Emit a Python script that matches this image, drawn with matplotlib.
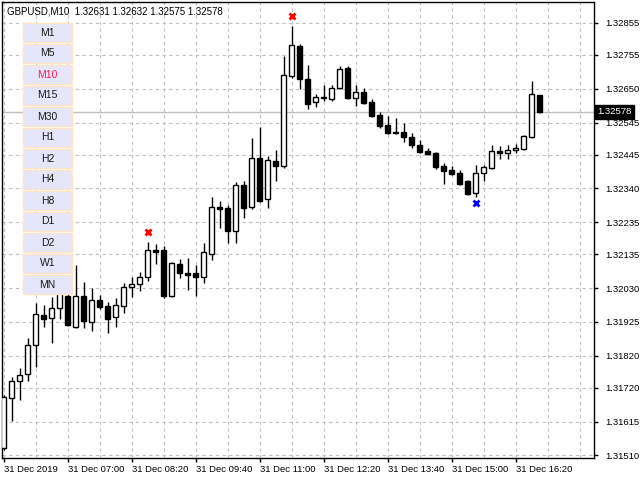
import matplotlib
matplotlib.use("Agg")
import matplotlib.pyplot as plt
from matplotlib.patches import Rectangle

plt.rcParams['font.family'] = ['Liberation Sans', 'DejaVu Sans']

symbol = "GBPUSD,M10"

# OHLC of the 10 minute bars
opens = [1.31533, 1.31688, 1.31741, 1.31763, 1.31853, 1.31946, 1.31937, 1.31968, 1.32005, 1.31909,
         1.32005, 1.31925, 1.31993, 1.31974, 1.31940, 1.31974, 1.32033, 1.32043, 1.32065, 1.32149,
         1.32149, 1.32005, 1.32105, 1.32077, 1.32077, 1.32065, 1.32136, 1.32282, 1.32279, 1.32208,
         1.32351, 1.32282, 1.32435, 1.32307, 1.32425, 1.32410, 1.32690, 1.32783, 1.32680, 1.32609,
         1.32624, 1.32618, 1.32652, 1.32715, 1.32621, 1.32640, 1.32609, 1.32568, 1.32537, 1.32516,
         1.32516, 1.32500, 1.32475, 1.32456, 1.32450, 1.32410, 1.32397, 1.32388, 1.32363, 1.32326,
         1.32388, 1.32404, 1.32456, 1.32450, 1.32460, 1.32463, 1.32500, 1.32631]
highs = [1.31698, 1.31754, 1.31782, 1.31875, 1.31984, 1.31977, 1.32002, 1.32065, 1.32024, 1.32102,
         1.32049, 1.32030, 1.32009, 1.31987, 1.31999, 1.32046, 1.32065, 1.32080, 1.32173, 1.32167,
         1.32161, 1.32111, 1.32121, 1.32124, 1.32102, 1.32170, 1.32313, 1.32301, 1.32288, 1.32360,
         1.32363, 1.32497, 1.32531, 1.32441, 1.32460, 1.32752, 1.32845, 1.32789, 1.32724, 1.32634,
         1.32662, 1.32662, 1.32721, 1.32721, 1.32662, 1.32652, 1.32618, 1.32578, 1.32565, 1.32559,
         1.32544, 1.32512, 1.32491, 1.32466, 1.32453, 1.32419, 1.32410, 1.32397, 1.32366, 1.32413,
         1.32413, 1.32475, 1.32472, 1.32475, 1.32478, 1.32506, 1.32674, 1.32632]
lows = [1.31526, 1.31617, 1.31682, 1.31741, 1.31785, 1.31909, 1.31859, 1.31934, 1.31912, 1.31906,
        1.31906, 1.31897, 1.31965, 1.31890, 1.31909, 1.31953, 1.32002, 1.32021, 1.32052, 1.32105,
        1.31999, 1.32002, 1.32061, 1.32024, 1.32005, 1.32046, 1.32117, 1.32217, 1.32170, 1.32170,
        1.32248, 1.32276, 1.32298, 1.32279, 1.32363, 1.32404, 1.32683, 1.32649, 1.32587, 1.32593,
        1.32612, 1.32612, 1.32649, 1.32618, 1.32596, 1.32603, 1.32562, 1.32528, 1.32509, 1.32509,
        1.32484, 1.32466, 1.32450, 1.32444, 1.32400, 1.32354, 1.32382, 1.32351, 1.32320, 1.32313,
        1.32363, 1.32400, 1.32432, 1.32432, 1.32450, 1.32460, 1.32497, 1.32575]
closes = [1.31691, 1.31741, 1.31760, 1.31853, 1.31949, 1.31934, 1.31968, 1.32033, 1.31915, 1.32005,
          1.31928, 1.31993, 1.31971, 1.31934, 1.31977, 1.32033, 1.32043, 1.32065, 1.32149, 1.32142,
          1.32005, 1.32108, 1.32077, 1.32071, 1.32065, 1.32142, 1.32282, 1.32276, 1.32208, 1.32351,
          1.32279, 1.32435, 1.32301, 1.32428, 1.32410, 1.32693, 1.32786, 1.32680, 1.32603, 1.32624,
          1.32621, 1.32652, 1.32711, 1.32621, 1.32640, 1.32606, 1.32565, 1.32534, 1.32512, 1.32512,
          1.32500, 1.32475, 1.32453, 1.32447, 1.32407, 1.32394, 1.32385, 1.32354, 1.32323, 1.32388,
          1.32407, 1.32456, 1.32450, 1.32460, 1.32466, 1.32503, 1.32634, 1.32578]

# fractal marks
up_marks = [18, 36]
down_marks = [59]

time_ticks = [0, 8, 16, 24, 32, 40, 48, 56, 64]
time_labels = ["31 Dec 2019", "31 Dec 07:00", "31 Dec 08:20", "31 Dec 09:40", "31 Dec 11:00",
               "31 Dec 12:20", "31 Dec 13:40", "31 Dec 15:00", "31 Dec 16:20"]
price_ticks = [1.32855, 1.32755, 1.32650, 1.32545, 1.32445, 1.32340, 1.32235, 1.32135,
               1.32030, 1.31925, 1.31820, 1.31720, 1.31615, 1.31510]
buttons = ["M1", "M5", "M10", "M15", "M30", "H1", "H2", "H4", "H8", "D1", "D2", "W1", "MN"]
active = "M10"

fig = plt.figure(figsize=(6.4, 4.8), dpi=100)
ax = fig.add_axes([2 / 640, 22 / 480, 592 / 640, 456 / 480])

n = len(opens)
xs = list(range(n))

# wicks
ax.vlines(xs, lows, highs, color="black", linewidth=1, zorder=3)
# bodies
bottoms = [min(o, c) for o, c in zip(opens, closes)]
heights = [max(abs(c - o), 0.000005) for o, c in zip(opens, closes)]
colors = ["white" if c > o else "black" for o, c in zip(opens, closes)]
ax.bar(xs, heights, bottom=bottoms, width=0.56, color=colors, edgecolor="black",
       linewidth=1, zorder=4)

ax.plot(up_marks, [highs[i] + 0.00032 for i in up_marks], "x", color="red",
        markersize=5, markeredgewidth=2, zorder=5)
ax.plot(down_marks, [lows[i] - 0.00017 for i in down_marks], "x", color="blue",
        markersize=5, markeredgewidth=2, zorder=5)

# last price line
ax.axhline(closes[-1], color="#c0c0c0", linewidth=1, zorder=1)

ax.set_xlim(-0.19, 73.8)
ax.set_ylim(1.315016, 1.329198)

ax.yaxis.tick_right()
ax.set_yticks(price_ticks)
ax.set_yticklabels(["%.5f" % p for p in price_ticks])
ax.set_xticks(time_ticks)
ax.set_xticklabels(time_labels)
ax.set_xticks(list(range(0, 73, 4)), minor=True)
for lab in ax.get_xticklabels():
    lab.set_ha("left")
ax.tick_params(axis="y", length=3, width=1, pad=5, labelsize=6.8, colors="black")
ax.tick_params(axis="x", which="major", length=3, width=1, pad=2, labelsize=6.8)
ax.tick_params(axis="x", which="minor", length=0)
ax.grid(True, which="both", color="#c0c0c0", linestyle=(0, (3, 3)), linewidth=0.8, zorder=0)
for sp in ax.spines.values():
    sp.set_color("black")
    sp.set_linewidth(1)

fig.text(7 / 640, 1 - 11 / 480,
         "%s  %.5f %.5f %.5f %.5f" % (symbol, opens[-1], highs[-1], lows[-1], closes[-1]),
         fontsize=7, va="center", ha="left", color="black")

# price tag on the right axis
y_last = ax.transData.transform((0, closes[-1]))[1] / 480
fig.text(597 / 640, y_last, "%.5f" % closes[-1], fontsize=6.8, color="white",
         va="center", ha="left",
         bbox=dict(facecolor="black", edgecolor="black", boxstyle="square,pad=0.25"))

# timeframe buttons
for i, name in enumerate(buttons):
    top = 23 + 21 * i
    rect = Rectangle((23 / 640, 1 - (top + 19) / 480), 49 / 640, 19 / 480,
                     transform=fig.transFigure, facecolor="#e6e6fa",
                     edgecolor="#ffe4c4", linewidth=1, zorder=10)
    fig.add_artist(rect)
    fig.text(47.5 / 640, 1 - (top + 9.5) / 480, name, fontsize=7.5, ha="center", va="center",
             color="#ff1a4a" if name == active else "#1a1a1a", zorder=11)

fig.savefig("out.png", dpi=100)
